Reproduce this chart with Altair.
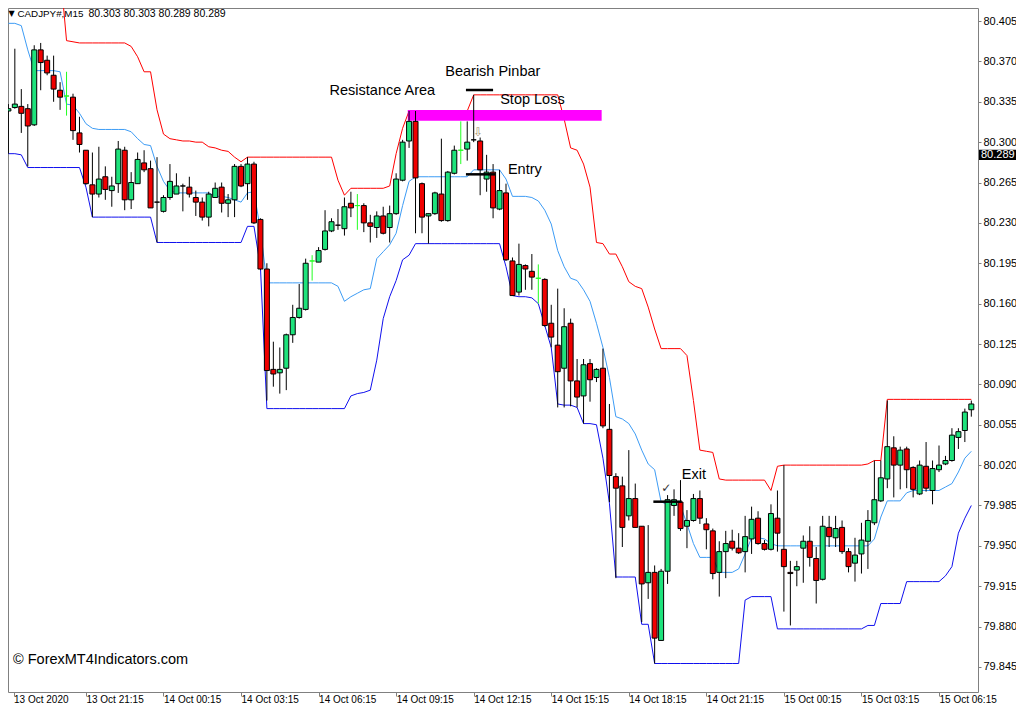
import altair as alt
import pandas as pd

# ---------------- data (CADJPY M15) ----------------
OPEN = [80.327, 80.330, 80.331, 80.329, 80.315, 80.380, 80.371, 80.358, 80.345, 80.340,
        80.339, 80.308, 80.293, 80.263, 80.255, 80.270, 80.258, 80.264, 80.293, 80.250,
        80.264, 80.282, 80.277, 80.248, 80.240, 80.252, 80.255, 80.262, 80.261, 80.252,
        80.248, 80.235, 80.252, 80.261, 80.247, 80.250, 80.279, 80.264, 80.281, 80.233,
        80.190, 80.103, 80.100, 80.104, 80.133, 80.148, 80.155, 80.197, 80.196, 80.207,
        80.223, 80.228, 80.225, 80.247, 80.245, 80.245, 80.230, 80.226, 80.236, 80.226,
        80.238, 80.267, 80.301, 80.318, 80.264, 80.236, 80.238, 80.255, 80.232, 80.273,
        80.293, 80.294, 80.302, 80.301, 80.268, 80.274, 80.242, 80.256, 80.197, 80.170,
        80.193, 80.188, 80.182, 80.181, 80.143, 80.124, 80.104, 80.143, 80.093, 80.080,
        80.108, 80.096, 80.104, 80.051, 80.010, 80.002, 79.976, 79.991, 79.967, 79.918,
        79.927, 79.868, 79.928, 79.985, 79.988, 79.967, 79.972, 79.991, 79.969, 79.963,
        79.927, 79.945, 79.954, 79.948, 79.945, 79.956, 79.974, 79.952, 79.947, 79.974,
        79.947, 79.927, 79.929, 79.948, 79.954, 79.939, 79.921, 79.966, 79.957, 79.966,
        79.945, 79.935, 79.943, 79.954, 79.970, 79.989, 80.008, 80.035, 80.020, 80.034,
        80.018, 79.995, 80.019, 79.998, 80.016, 80.021, 80.024, 80.044, 80.050, 80.068]
HIGH = [80.333, 80.381, 80.346, 80.333, 80.384, 80.386, 80.375, 80.375, 80.352, 80.361,
        80.342, 80.322, 80.293, 80.291, 80.296, 80.279, 80.270, 80.301, 80.296, 80.274,
        80.291, 80.293, 80.284, 80.287, 80.254, 80.281, 80.273, 80.264, 80.270, 80.258,
        80.252, 80.257, 80.265, 80.265, 80.255, 80.281, 80.281, 80.287, 80.283, 80.234,
        80.195, 80.127, 80.122, 80.134, 80.159, 80.177, 80.199, 80.202, 80.209, 80.241,
        80.234, 80.242, 80.252, 80.257, 80.255, 80.247, 80.237, 80.240, 80.244, 80.245,
        80.273, 80.302, 80.327, 80.327, 80.265, 80.238, 80.257, 80.303, 80.275, 80.297,
        80.318, 80.318, 80.341, 80.304, 80.289, 80.281, 80.276, 80.264, 80.200, 80.212,
        80.194, 80.203, 80.194, 80.182, 80.159, 80.173, 80.156, 80.147, 80.112, 80.112,
        80.112, 80.104, 80.121, 80.073, 80.013, 80.010, 80.033, 80.004, 79.967, 79.968,
        79.933, 79.930, 79.994, 79.999, 80.007, 79.981, 79.995, 79.998, 79.974, 79.965,
        79.954, 79.963, 79.964, 79.961, 79.976, 79.984, 79.980, 79.955, 79.986, 79.998,
        80.020, 79.937, 79.937, 79.959, 79.967, 79.949, 79.976, 79.976, 79.976, 79.972,
        79.948, 79.957, 79.970, 79.981, 80.024, 80.024, 80.076, 80.045, 80.036, 80.036,
        80.019, 80.024, 80.040, 80.024, 80.037, 80.028, 80.052, 80.052, 80.069, 80.076]
LOW = [80.290, 80.329, 80.308, 80.279, 80.314, 80.345, 80.358, 80.335, 80.328, 80.323,
       80.302, 80.291, 80.263, 80.235, 80.252, 80.250, 80.244, 80.256, 80.241, 80.242,
       80.264, 80.274, 80.243, 80.213, 80.239, 80.250, 80.255, 80.240, 80.252, 80.236,
       80.232, 80.227, 80.252, 80.239, 80.235, 80.235, 80.261, 80.250, 80.229, 80.189,
       80.076, 80.088, 80.082, 80.085, 80.126, 80.147, 80.154, 80.180, 80.196, 80.206,
       80.222, 80.224, 80.219, 80.235, 80.224, 80.222, 80.213, 80.217, 80.220, 80.213,
       80.237, 80.266, 80.295, 80.221, 80.221, 80.212, 80.237, 80.231, 80.231, 80.272,
       80.281, 80.284, 80.300, 80.254, 80.257, 80.234, 80.241, 80.197, 80.167, 80.167,
       80.172, 80.172, 80.160, 80.140, 80.122, 80.070, 80.070, 80.071, 80.070, 80.056,
       80.075, 80.092, 80.052, 79.988, 79.922, 79.949, 79.972, 79.966, 79.884, 79.904,
       79.848, 79.868, 79.917, 79.976, 79.963, 79.948, 79.971, 79.969, 79.947, 79.921,
       79.906, 79.922, 79.946, 79.943, 79.927, 79.943, 79.951, 79.946, 79.946, 79.945,
       79.893, 79.881, 79.915, 79.918, 79.932, 79.900, 79.920, 79.949, 79.949, 79.943,
       79.927, 79.919, 79.926, 79.930, 79.968, 79.988, 80.000, 79.992, 79.999, 80.000,
       79.992, 79.994, 79.997, 79.986, 80.014, 80.020, 80.023, 80.034, 80.040, 80.062]
CLOSE = [80.329, 80.333, 80.325, 80.314, 80.380, 80.369, 80.360, 80.346, 80.339, 80.340,
         80.310, 80.298, 80.264, 80.255, 80.268, 80.259, 80.262, 80.294, 80.250, 80.265,
         80.285, 80.276, 80.243, 80.248, 80.252, 80.266, 80.262, 80.262, 80.255, 80.248,
         80.235, 80.255, 80.260, 80.247, 80.250, 80.279, 80.262, 80.281, 80.230, 80.190,
         80.102, 80.099, 80.103, 80.133, 80.148, 80.156, 80.195, 80.197, 80.206, 80.223,
         80.231, 80.228, 80.244, 80.243, 80.245, 80.230, 80.227, 80.236, 80.221, 80.238,
         80.268, 80.300, 80.318, 80.269, 80.235, 80.238, 80.256, 80.232, 80.274, 80.293,
         80.293, 80.300, 80.302, 80.276, 80.274, 80.243, 80.258, 80.198, 80.167, 80.194,
         80.190, 80.183, 80.182, 80.141, 80.131, 80.101, 80.140, 80.093, 80.079, 80.107,
         80.094, 80.103, 80.054, 80.011, 80.000, 79.966, 79.991, 79.966, 79.917, 79.927,
         79.870, 79.928, 79.990, 79.990, 79.965, 79.972, 79.991, 79.974, 79.964, 79.926,
         79.945, 79.952, 79.948, 79.944, 79.958, 79.973, 79.952, 79.947, 79.978, 79.961,
         79.932, 79.926, 79.932, 79.954, 79.940, 79.920, 79.967, 79.958, 79.965, 79.945,
         79.932, 79.942, 79.955, 79.972, 79.990, 80.009, 80.036, 80.020, 80.033, 80.016,
         79.999, 80.020, 80.000, 80.017, 80.020, 80.024, 80.046, 80.049, 80.066, 80.073]
# bars drawn as lime crosses (open == close)
LIME_DOJI = [9, 47, 54, 70, 82]

UPPER = [80.450, 80.450, 80.450, 80.450, 80.450, 80.450, 80.450, 80.450, 80.450, 80.388,
         80.387, 80.386, 80.386, 80.386, 80.386, 80.386, 80.386, 80.386, 80.386, 80.383,
         80.374, 80.361, 80.361, 80.328, 80.307, 80.303, 80.302, 80.301, 80.301, 80.300,
         80.300, 80.296, 80.295, 80.293, 80.292, 80.287, 80.283, 80.287, 80.287, 80.287,
         80.287, 80.287, 80.287, 80.287, 80.287, 80.287, 80.287, 80.287, 80.287, 80.287,
         80.287, 80.267, 80.254, 80.260, 80.260, 80.260, 80.260, 80.260, 80.260, 80.262,
         80.290, 80.312, 80.327, 80.327, 80.327, 80.327, 80.327, 80.327, 80.327, 80.327,
         80.327, 80.327, 80.341, 80.341, 80.341, 80.341, 80.341, 80.341, 80.341, 80.341,
         80.341, 80.341, 80.341, 80.341, 80.341, 80.341, 80.320, 80.295, 80.293, 80.281,
         80.261, 80.213, 80.212, 80.203, 80.203, 80.192, 80.179, 80.175, 80.173, 80.157,
         80.138, 80.121, 80.121, 80.121, 80.121, 80.115, 80.076, 80.033, 80.032, 80.031,
         80.008, 80.007, 80.007, 80.007, 80.007, 80.007, 80.007, 80.007, 79.998, 80.019,
         80.020, 80.020, 80.020, 80.020, 80.020, 80.020, 80.020, 80.020, 80.020, 80.020,
         80.020, 80.020, 80.020, 80.021, 80.024, 80.024, 80.077, 80.077, 80.077, 80.077,
         80.077, 80.077, 80.077, 80.077, 80.077, 80.077, 80.077, 80.077, 80.077, 80.077]
MIDDLE = [80.403, 80.403, 80.401, 80.380, 80.362, 80.362, 80.362, 80.362, 80.361, 80.333,
          80.332, 80.325, 80.316, 80.312, 80.311, 80.311, 80.311, 80.311, 80.311, 80.309,
          80.303, 80.298, 80.297, 80.279, 80.266, 80.258, 80.256, 80.256, 80.256, 80.256,
          80.256, 80.256, 80.253, 80.253, 80.252, 80.250, 80.248, 80.256, 80.257, 80.224,
          80.178, 80.178, 80.178, 80.178, 80.178, 80.178, 80.178, 80.178, 80.178, 80.178,
          80.178, 80.175, 80.162, 80.166, 80.169, 80.172, 80.173, 80.199, 80.205, 80.211,
          80.221, 80.245, 80.266, 80.270, 80.270, 80.270, 80.270, 80.270, 80.270, 80.270,
          80.270, 80.270, 80.276, 80.276, 80.276, 80.276, 80.276, 80.268, 80.253, 80.253,
          80.253, 80.252, 80.249, 80.241, 80.229, 80.206, 80.192, 80.182, 80.180, 80.172,
          80.162, 80.143, 80.122, 80.096, 80.062, 80.060, 80.056, 80.047, 80.033, 80.021,
          80.016, 79.988, 79.986, 79.986, 79.985, 79.969, 79.952, 79.940, 79.940, 79.940,
          79.927, 79.927, 79.927, 79.930, 79.943, 79.957, 79.957, 79.956, 79.952, 79.950,
          79.950, 79.950, 79.950, 79.950, 79.950, 79.950, 79.950, 79.950, 79.950, 79.950,
          79.950, 79.950, 79.950, 79.950, 79.956, 79.975, 79.989, 79.989, 79.989, 79.996,
          79.998, 79.998, 79.998, 79.998, 79.998, 80.001, 80.004, 80.014, 80.026, 80.032]
LOWER = [80.290, 80.290, 80.289, 80.278, 80.278, 80.278, 80.278, 80.278, 80.278, 80.278,
         80.278, 80.278, 80.261, 80.235, 80.235, 80.235, 80.235, 80.235, 80.235, 80.235,
         80.235, 80.235, 80.235, 80.213, 80.213, 80.213, 80.213, 80.213, 80.213, 80.213,
         80.213, 80.213, 80.213, 80.213, 80.213, 80.213, 80.213, 80.227, 80.227, 80.192,
         80.069, 80.069, 80.069, 80.069, 80.069, 80.069, 80.069, 80.069, 80.069, 80.069,
         80.069, 80.069, 80.069, 80.080, 80.082, 80.083, 80.085, 80.111, 80.147, 80.166,
         80.180, 80.198, 80.202, 80.212, 80.212, 80.212, 80.212, 80.212, 80.212, 80.212,
         80.212, 80.212, 80.212, 80.212, 80.212, 80.212, 80.212, 80.192, 80.167, 80.166,
         80.166, 80.165, 80.160, 80.141, 80.122, 80.073, 80.072, 80.072, 80.070, 80.056,
         80.056, 80.055, 80.026, 79.987, 79.923, 79.923, 79.923, 79.923, 79.882, 79.882,
         79.848, 79.848, 79.848, 79.848, 79.848, 79.848, 79.848, 79.848, 79.848, 79.848,
         79.848, 79.848, 79.848, 79.848, 79.903, 79.906, 79.906, 79.906, 79.906, 79.878,
         79.878, 79.878, 79.878, 79.878, 79.878, 79.878, 79.878, 79.878, 79.878, 79.878,
         79.878, 79.878, 79.878, 79.881, 79.881, 79.900, 79.900, 79.900, 79.900, 79.919,
         79.919, 79.919, 79.919, 79.919, 79.919, 79.924, 79.932, 79.961, 79.974, 79.985]

PRICE_TICKS = [80.405, 80.370, 80.335, 80.300, 80.265, 80.230, 80.195, 80.160, 80.125,
               80.090, 80.055, 80.020, 79.985, 79.950, 79.915, 79.880, 79.845]
TIME_TICK_BARS = [0, 12, 24, 36, 48, 60, 72, 84, 96, 108, 120, 132, 144]
TIME_TICK_LABELS = ["13 Oct 2020", "13 Oct 21:15", "14 Oct 00:15", "14 Oct 03:15",
                    "14 Oct 06:15", "14 Oct 09:15", "14 Oct 12:15", "14 Oct 15:15",
                    "14 Oct 18:15", "14 Oct 21:15", "15 Oct 00:15", "15 Oct 03:15",
                    "15 Oct 06:15"]
LAST_PRICE = 80.289
HEADER_SYMBOL = "CADJPY#,M15"
HEADER_OHLC = "80.303 80.303 80.289 80.289"

# annotations (bar index / price)
RES_AREA = {"x0": 61.8, "x1": 91.8, "y0": 80.3186, "y1": 80.3279}
LABELS = pd.DataFrame({
    "x": [49.7, 67.6, 76.1, 77.3, 104.2],
    "y": [80.3443, 80.3610, 80.3365, 80.2758, 80.0114],
    "t": ["Resistance Area", "Bearish Pinbar", "Stop Loss", "Entry", "Exit"],
})
LEVELS = pd.DataFrame({
    "x0": [70.8, 70.8, 99.8],
    "x1": [75.0, 75.3, 104.2],
    "y": [80.3452, 80.2721, 79.9883],
})
ARROW = pd.DataFrame({"x": [72.7], "y": [80.3088], "t": ["⇩"]})
CHECK = pd.DataFrame({"x": [101.8], "y": [80.0002], "t": ["✓"]})

# ---------------- build ----------------
n = len(OPEN)
kind = []
for i in range(n):
    if i in LIME_DOJI:
        kind.append("lime")
    elif CLOSE[i] > OPEN[i]:
        kind.append("up")
    elif CLOSE[i] < OPEN[i]:
        kind.append("down")
    else:
        kind.append("flat")

df = pd.DataFrame({"bar": list(range(n)), "open": OPEN, "high": HIGH, "low": LOW,
                   "close": CLOSE, "upper": UPPER, "middle": MIDDLE, "lower": LOWER,
                   "kind": kind})

XMIN, XMAX = 0.715, 149.26
YMIN, YMAX = 79.8233, 80.4163
xs = alt.Scale(domain=[XMIN, XMAX], nice=False, zero=False)
ys = alt.Scale(domain=[YMIN, YMAX], nice=False, zero=False)

FONT = "Liberation Sans"
tick_vals = [max(b, 0.8) for b in TIME_TICK_BARS]
lab_arr = "[" + ",".join("'" + s + "'" for s in TIME_TICK_LABELS) + "]"
val_arr = "[" + ",".join(str(v) for v in tick_vals) + "]"
X_AX = alt.Axis(values=tick_vals, labelExpr=f"{lab_arr}[indexof({val_arr}, datum.value)]",
                orient="bottom", tickSize=4, tickColor="#808080", domain=False, grid=False,
                labelAlign="left", labelBaseline="top", labelPadding=-1.5, labelFont=FONT,
                labelFontSize=10, labelColor="black", title=None, labelOverlap=False,
                labelFlush=False, labelBound=False)
Y_AX = alt.Axis(values=PRICE_TICKS, format=".3f", orient="right", tickSize=3,
                tickColor="#808080", domain=False, grid=False, labelPadding=2,
                labelFont=FONT, labelFontSize=11, labelColor="black", title=None,
                labelBaseline="middle", labelAlign="left", labelOverlap=False,
                labelFlush=False, labelBound=False)

X = lambda f: alt.X(f, type="quantitative", scale=xs, axis=X_AX)
Y = lambda f: alt.Y(f, type="quantitative", scale=ys, axis=Y_AX)

kinds = ["up", "down", "flat", "lime"]
wick_col = alt.Scale(domain=kinds, range=["#000000", "#000000", "#000000", "#22ff22"])
body_fill = alt.Scale(domain=kinds, range=["#1ee37c", "#f00000", "#000000", "#22ff22"])
body_stroke = alt.Scale(domain=kinds, range=["#000000", "#000000", "#000000", "#22ff22"])

base = alt.Chart(df)

upper_line = base.mark_line(color="#ff0000", strokeWidth=1, clip=True).encode(x=X("bar"), y=Y("upper"))
middle_line = base.mark_line(color="#3d9cf5", strokeWidth=1, clip=True).encode(x=X("bar"), y=Y("middle"))
lower_line = base.mark_line(color="#1010ee", strokeWidth=1, clip=True).encode(x=X("bar"), y=Y("lower"))

res_rect = alt.Chart(pd.DataFrame([RES_AREA])).mark_rect(color="#ff00ff").encode(
    x=X("x0"), x2="x1", y=Y("y0"), y2="y1")

wicks = base.mark_rule(strokeWidth=1, clip=True).encode(
    x=X("bar"), y=Y("low"), y2="high",
    color=alt.Color("kind:N", scale=wick_col, legend=None))
bodies = base.mark_bar(size=5, strokeWidth=1, clip=True).encode(
    x=X("bar"), y=Y("open"), y2="close",
    fill=alt.Fill("kind:N", scale=body_fill, legend=None),
    stroke=alt.Stroke("kind:N", scale=body_stroke, legend=None))

levels = alt.Chart(LEVELS).mark_rule(color="black", strokeWidth=2.5).encode(
    x=X("x0"), x2="x1", y=Y("y"))
labels = alt.Chart(LABELS).mark_text(align="left", baseline="middle", font=FONT,
                                     fontSize=14.5, color="black").encode(
    x=X("x"), y=Y("y"), text="t:N")
arrow = alt.Chart(ARROW).mark_text(align="center", baseline="middle", font="DejaVu Sans",
                                   fontSize=12, color="#a8916c").encode(
    x=X("x"), y=Y("y"), text="t:N")
check = alt.Chart(CHECK).mark_text(align="center", baseline="middle", font="DejaVu Sans",
                                   fontSize=12, color="#333333").encode(
    x=X("x"), y=Y("y"), text="t:N")

one = pd.DataFrame({"v": [LAST_PRICE]})
price_box = alt.Chart(one).mark_rect(color="black").encode(
    x=alt.value(971), x2=alt.value(1012),
    y=alt.Y("lo:Q", scale=ys, axis=Y_AX), y2="hi:Q").transform_calculate(
    lo="datum.v - 0.0045", hi="datum.v + 0.0045")
price_txt = alt.Chart(one).mark_text(align="left", baseline="middle", font=FONT,
                                     fontSize=11, color="white").encode(
    x=alt.value(973), y=alt.Y("v:Q", scale=ys, axis=Y_AX), text=alt.Text("v:Q", format=".3f"))

hdr = pd.DataFrame({"t": [HEADER_SYMBOL], "o": [HEADER_OHLC], "c": ["©  ForexMT4Indicators.com"]})
hdr_tri = alt.Chart(hdr).mark_text(align="left", baseline="middle", font="DejaVu Sans",
                                   fontSize=8, color="black").encode(
    x=alt.value(0.5), y=alt.value(6), text=alt.value("▼"))
hdr_sym = alt.Chart(hdr).mark_text(align="left", baseline="middle", font=FONT,
                                   fontSize=9.8, color="black").encode(
    x=alt.value(9.5), y=alt.value(6), text="t:N")
hdr_ohlc = alt.Chart(hdr).mark_text(align="left", baseline="middle", font=FONT,
                                    fontSize=10.5, color="black").encode(
    x=alt.value(80.5), y=alt.value(6), text="o:N")
copyright_txt = alt.Chart(hdr).mark_text(align="left", baseline="middle", font=FONT,
                                         fontSize=14.5, color="black").encode(
    x=alt.value(5), y=alt.value(652), text="c:N")

chart = alt.layer(
    upper_line, middle_line, lower_line, res_rect, wicks, bodies, levels, labels, arrow,
    check, price_box, price_txt, hdr_tri, hdr_sym, hdr_ohlc, copyright_txt
).properties(
    width=970, height=684, autosize=alt.AutoSizeParams(type="none"),
    padding={"left": 0, "top": 0, "right": 38, "bottom": 12}, background="white"
).configure_view(stroke="#808080", strokeWidth=1)

chart.save("out.html", embed_options={"renderer": "svg", "actions": False})
